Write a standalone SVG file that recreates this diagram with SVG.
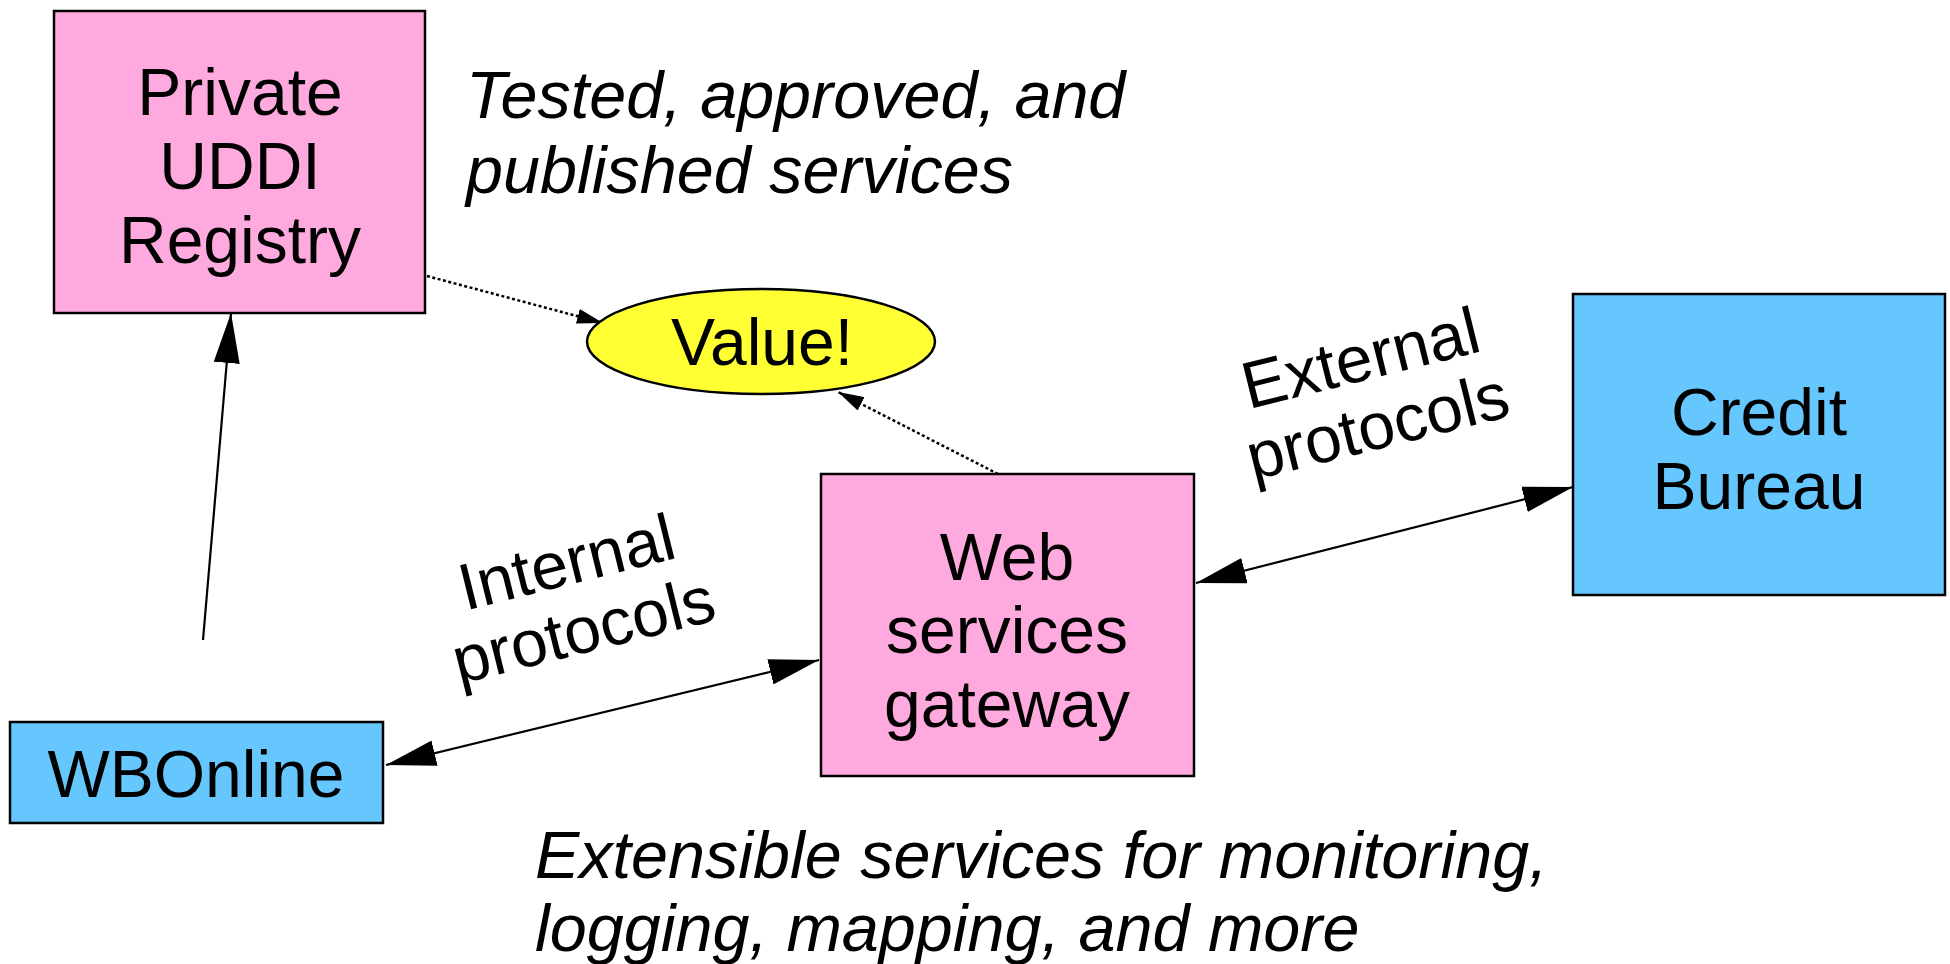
<svg xmlns="http://www.w3.org/2000/svg" width="1950" height="964" viewBox="0 0 1950 964">
<style>
  text { font-family: "Liberation Sans", Arial, sans-serif; font-size: 66px; fill: #000; }
  .c { text-anchor: middle; }
  .it { font-style: italic; font-size: 66.5px; }
  .pink { fill: #ffaade; stroke: #000; stroke-width: 2.5; }
  .blue { fill: #66c7ff; stroke: #000; stroke-width: 2.5; }
  .yel { fill: #ffff33; stroke: #000; stroke-width: 2.5; }
  .solid { stroke: #000; stroke-width: 2.2; fill: none; }
  .dot { stroke: #000; stroke-width: 2.5; fill: none; stroke-dasharray: 3 2.5; }
</style>
<defs>
  <marker id="big" markerUnits="userSpaceOnUse" markerWidth="50" markerHeight="26" refX="50" refY="13" orient="auto-start-reverse" viewBox="0 0 50 26">
    <path d="M0,0 L50,13 L0,26 z" fill="#000"/>
  </marker>
  <marker id="small" markerUnits="userSpaceOnUse" markerWidth="26" markerHeight="15" refX="26" refY="7.5" orient="auto" viewBox="0 0 26 15">
    <path d="M0,0 L26,7.5 L0,15 z" fill="#000"/>
  </marker>
</defs>

<rect width="1950" height="964" fill="#fff"/>

<g id="connectors">
  <line class="solid" x1="203" y1="640" x2="231" y2="313" marker-end="url(#big)"/>
  <line class="solid" x1="386" y1="765" x2="819" y2="660" marker-start="url(#big)" marker-end="url(#big)"/>
  <line class="solid" x1="1196" y1="583" x2="1573" y2="487" marker-start="url(#big)" marker-end="url(#big)"/>
  <line class="dot" x1="427" y1="276" x2="603" y2="323" marker-end="url(#small)"/>
  <line class="dot" x1="998" y1="474" x2="838" y2="392" marker-end="url(#small)"/>
</g>

<g id="uddi">
  <rect class="pink" x="54" y="11" width="371" height="302"/>
  <text class="c" x="240" y="115">Private</text>
  <text class="c" x="240" y="189">UDDI</text>
  <text class="c" x="240" y="263">Registry</text>
</g>

<g id="value">
  <ellipse class="yel" cx="761" cy="341.5" rx="174" ry="52.5"/>
  <text class="c" x="762" y="365">Value!</text>
</g>

<g id="gateway">
  <rect class="pink" x="821" y="474" width="373" height="302"/>
  <text class="c" x="1007" y="580">Web</text>
  <text class="c" x="1007" y="653">services</text>
  <text class="c" x="1007" y="727">gateway</text>
</g>

<g id="credit">
  <rect class="blue" x="1573" y="294" width="372" height="301"/>
  <text class="c" x="1759" y="435">Credit</text>
  <text class="c" x="1759" y="509">Bureau</text>
</g>

<g id="wbonline">
  <rect class="blue" x="10" y="722" width="373" height="101"/>
  <text class="c" x="196" y="797">WBOnline</text>
</g>

<g id="labels">
  <text class="it" x="466" y="118">Tested, approved, and</text>
  <text class="it" x="466" y="193">published services</text>
  <g transform="translate(1366,380) rotate(-14)">
    <text class="c" x="0" y="0">External</text>
    <text class="c" x="0" y="70">protocols</text>
  </g>
  <g transform="translate(572,584) rotate(-14)">
    <text class="c" x="0" y="0">Internal</text>
    <text class="c" x="0" y="70">protocols</text>
  </g>
  <text class="it" x="535" y="878">Extensible services for monitoring,</text>
  <text class="it" x="535" y="951">logging, mapping, and more</text>
</g>
</svg>
